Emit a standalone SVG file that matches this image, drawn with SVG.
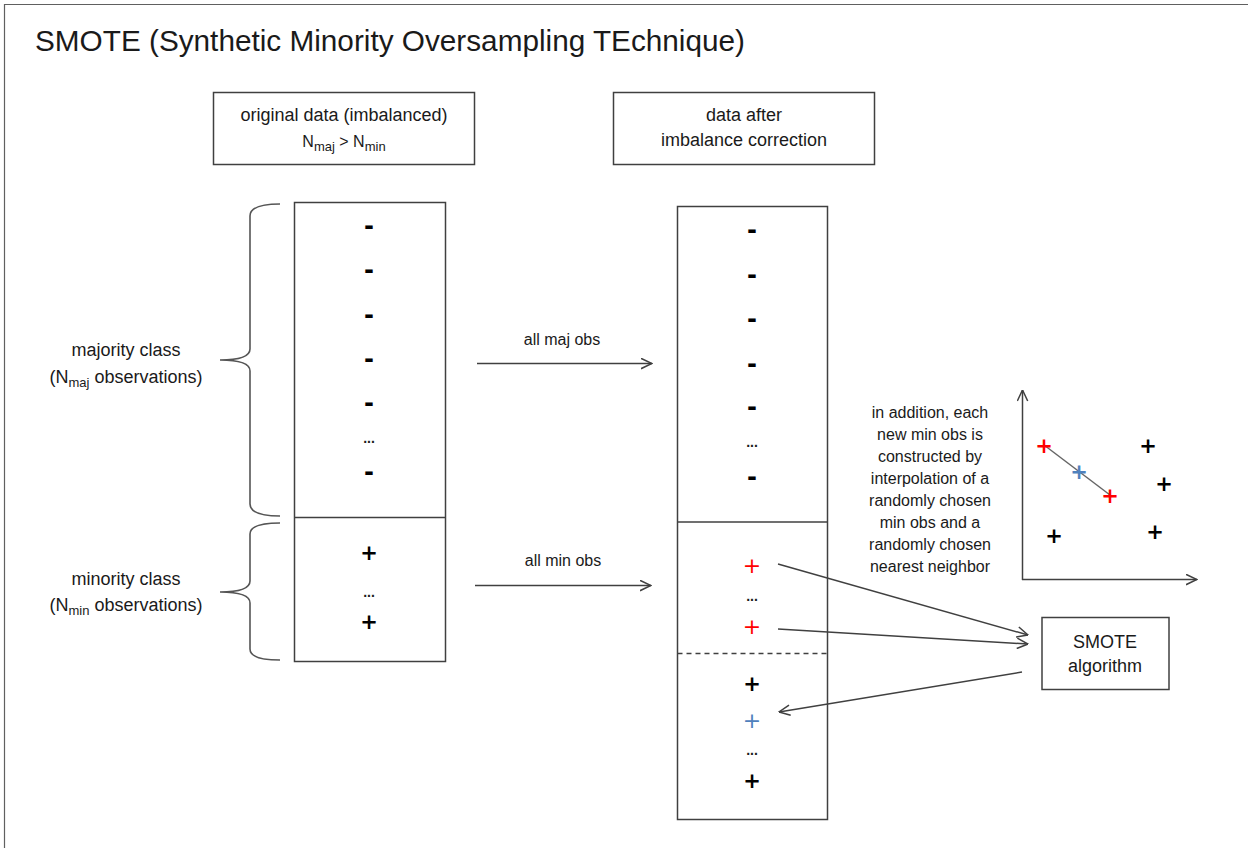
<svg xmlns="http://www.w3.org/2000/svg" width="1248" height="848" viewBox="0 0 1248 848">
  <style>
    .t { font-family: "Liberation Sans", Arial, sans-serif; fill: #1a1a1a; text-anchor: middle; }
    .lbl { font-size: 18px; }
    .small { font-size: 16px; }
    .sub { font-size: 13px; }
    .box { fill: #ffffff; stroke: #404040; stroke-width: 1.5; }
    .brace { fill: none; stroke: #555555; stroke-width: 1.6; }
    .minus { font-family: "DejaVu Sans", sans-serif; font-weight: bold; font-size: 24px; fill: #000; text-anchor: middle; }
    .plus { font-family: "DejaVu Sans", sans-serif; font-weight: bold; font-size: 21px; fill: #000; text-anchor: middle; }
    .plus-thin { font-family: "DejaVu Sans", sans-serif; font-size: 22px; text-anchor: middle; }
    .dots { font-family: "Liberation Sans", Arial, sans-serif; font-weight: bold; font-size: 14px; fill: #1a1a1a; text-anchor: middle; }
    .red { fill: #ff0000; }
    .blue { fill: #4f81bd; }
    .conn { fill: none; stroke: #404040; stroke-width: 1.5; }
    .frame { stroke: #606060; stroke-width: 1.2; }
  </style>
  <defs>
    <marker id="open-arrow" viewBox="0 0 12 12" refX="11.5" refY="6" markerWidth="12" markerHeight="12" markerUnits="userSpaceOnUse" orient="auto">
      <path d="M0.5,0.8 L11.5,6 L0.5,11.2" fill="none" stroke="#404040" stroke-width="1.5"/>
    </marker>
  </defs>

  <rect width="1248" height="848" fill="#ffffff"/>

  <!-- outer frame: top and left edges only -->
  <line class="frame" x1="4" y1="4.5" x2="1248" y2="4.5"/>
  <line class="frame" x1="4.5" y1="4" x2="4.5" y2="848"/>

  <g id="title">
    <text class="t" x="35" y="51" font-size="29" style="text-anchor:start" textLength="710" lengthAdjust="spacingAndGlyphs">SMOTE (Synthetic Minority Oversampling TEchnique)</text>
  </g>

  <g id="box-original">
    <rect class="box" x="213.5" y="92.5" width="261" height="72"/>
    <text class="t lbl" x="344" y="121">original data (imbalanced)</text>
    <text class="t small" x="344" y="147">N<tspan class="sub" dy="4">maj</tspan><tspan dy="-4"> &gt; N</tspan><tspan class="sub" dy="4">min</tspan></text>
  </g>

  <g id="box-corrected">
    <rect class="box" x="613.5" y="92.5" width="261" height="72"/>
    <text class="t lbl" x="744" y="121">data after</text>
    <text class="t lbl" x="744" y="146">imbalance correction</text>
  </g>

  <g id="brace-majority">
    <path class="brace" d="M280 204 Q250 204 250 216 L250 349 Q250 360 220 360 Q250 360 250 371 L250 504 Q250 516 280 516"/>
    <text class="t lbl" x="126" y="356">majority class</text>
    <text class="t lbl" x="126" y="383">(N<tspan class="sub" dy="4">maj</tspan><tspan dy="-4"> observations)</tspan></text>
  </g>

  <g id="brace-minority">
    <path class="brace" d="M280 523 Q250 523 250 534 L250 581 Q250 592 220 592 Q250 592 250 603 L250 649 Q250 660 280 660"/>
    <text class="t lbl" x="126" y="585">minority class</text>
    <text class="t lbl" x="126" y="611">(N<tspan class="sub" dy="4">min</tspan><tspan dy="-4"> observations)</tspan></text>
  </g>

  <g id="col-original">
    <rect class="box" x="294.5" y="202.5" width="151" height="459"/>
    <line class="conn" x1="294.5" y1="517.5" x2="445.5" y2="517.5"/>
    <text class="minus" x="369" y="234">-</text>
    <text class="minus" x="369" y="278">-</text>
    <text class="minus" x="369" y="323">-</text>
    <text class="minus" x="369" y="367">-</text>
    <text class="minus" x="369" y="411">-</text>
    <text class="dots" x="369" y="443">...</text>
    <text class="minus" x="369" y="480">-</text>
    <text class="plus" x="369" y="560">+</text>
    <text class="dots" x="369" y="597">...</text>
    <text class="plus" x="369" y="629">+</text>
  </g>

  <g id="col-corrected">
    <rect class="box" x="677.5" y="206.5" width="150" height="613"/>
    <line class="conn" x1="677.5" y1="522" x2="827.5" y2="522"/>
    <line x1="677.5" y1="653.5" x2="827.5" y2="653.5" stroke="#404040" stroke-width="1.3" stroke-dasharray="5 4"/>
    <text class="minus" x="752" y="238">-</text>
    <text class="minus" x="752" y="283">-</text>
    <text class="minus" x="752" y="327">-</text>
    <text class="minus" x="752" y="372">-</text>
    <text class="minus" x="752" y="415">-</text>
    <text class="dots" x="752" y="447">...</text>
    <text class="minus" x="752" y="485">-</text>
    <text class="plus-thin red" x="752" y="573">+</text>
    <text class="dots" x="752" y="601">...</text>
    <text class="plus-thin red" x="752" y="634">+</text>
    <text class="plus" x="752" y="690.5">+</text>
    <text class="plus-thin blue" x="752" y="728">+</text>
    <text class="dots" x="752" y="755">...</text>
    <text class="plus" x="752" y="787.5">+</text>
  </g>

  <g id="note">
    <text class="t small" x="930" y="418">in addition, each</text>
    <text class="t small" x="930" y="440">new min obs is</text>
    <text class="t small" x="930" y="462">constructed by</text>
    <text class="t small" x="930" y="484">interpolation of a</text>
    <text class="t small" x="930" y="506">randomly chosen</text>
    <text class="t small" x="930" y="528">min obs and a</text>
    <text class="t small" x="930" y="550">randomly chosen</text>
    <text class="t small" x="930" y="572">nearest neighbor</text>
  </g>

  <g id="scatter">
    <line class="conn" x1="1022.5" y1="580" x2="1022.5" y2="390" marker-end="url(#open-arrow)"/>
    <line class="conn" x1="1022" y1="579.5" x2="1197" y2="579.5" marker-end="url(#open-arrow)"/>
    <line x1="1044" y1="445" x2="1110" y2="495" stroke="#666666" stroke-width="1.5"/>
    <text class="plus red" x="1044" y="452.5">+</text>
    <text class="plus blue" x="1079" y="478.5">+</text>
    <text class="plus red" x="1110" y="502.5">+</text>
    <text class="plus" x="1148" y="452.5">+</text>
    <text class="plus" x="1164" y="490.5">+</text>
    <text class="plus" x="1155" y="539">+</text>
    <text class="plus" x="1054" y="543">+</text>
  </g>

  <g id="smote-box">
    <rect class="box" x="1042" y="617.5" width="127" height="72"/>
    <text class="t lbl" x="1105" y="648">SMOTE</text>
    <text class="t lbl" x="1105" y="672">algorithm</text>
  </g>

  <g id="connectors">
    <line class="conn" x1="477" y1="363.5" x2="652" y2="363.5" marker-end="url(#open-arrow)"/>
    <text class="t small" x="562" y="345">all maj obs</text>
    <line class="conn" x1="475" y1="585.5" x2="651" y2="585.5" marker-end="url(#open-arrow)"/>
    <text class="t small" x="563" y="566">all min obs</text>
    <line class="conn" x1="778" y1="564" x2="1028" y2="635" marker-end="url(#open-arrow)"/>
    <line class="conn" x1="778" y1="629" x2="1028" y2="644" marker-end="url(#open-arrow)"/>
    <line class="conn" x1="1022" y1="672" x2="779" y2="712" marker-end="url(#open-arrow)"/>
  </g>
</svg>
